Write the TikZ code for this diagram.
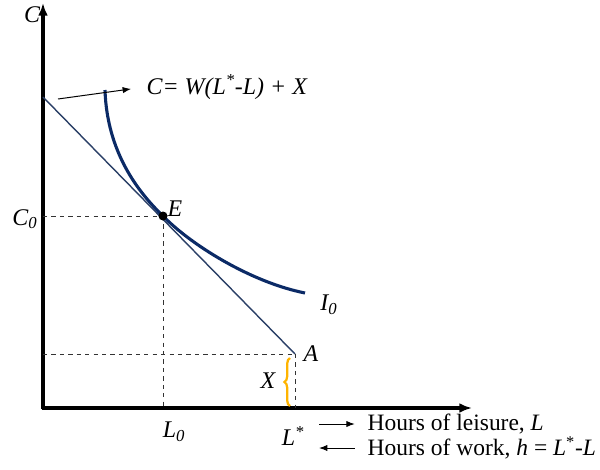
\documentclass[tikz,border=0pt]{standalone}
\usepackage{fontspec}
\setmainfont{Liberation Serif}
\usetikzlibrary{arrows.meta,decorations.pathreplacing}
\definecolor{navycurve}{HTML}{0B2A66}
\definecolor{navyline}{HTML}{2A3F66}
\definecolor{bracegold}{HTML}{FFB400}
\tikzset{
  axis/.style={line width=2.2pt, -{Latex[length=9pt,width=7pt]}},
  guide/.style={dashed, line width=0.6pt, black!80},
  lbl/.style={font=\fontsize{17}{20}\selectfont\itshape, inner sep=1pt},
  txt/.style={font=\fontsize{16.7}{20}\selectfont, inner sep=1pt, anchor=west},
  pointer/.style={line width=0.7pt, -{Latex[length=6pt,width=4.5pt]}}
}
\begin{document}
\begin{tikzpicture}[x=0.025cm, y=-0.025cm]
    \useasboundingbox (0,0) rectangle (600,469);
    % axes
    \coordinate (O) at (43,408);
    \coordinate (ytop) at (43,3);
    \coordinate (xend) at (472,408);
    \draw[axis] (43,409) -- (ytop);
    \draw[axis] (42,408) -- (xend);
    \node[lbl] (ylab) at (32,15) {C};

    % key points
    \coordinate (Cint) at (43,97);
    \coordinate (A) at (295,354);
    \coordinate (E) at (163,216);
    \coordinate (C0) at (43,216);
    \coordinate (L0) at (163,408);
    \coordinate (Lstar) at (295,408);
    \coordinate (Aleft) at (43,354);

    % guide lines
    \draw[guide] (C0) -- (E);
    \draw[guide] (E) -- (L0);
    \draw[guide] (Aleft) -- (A);
    \draw[guide] (A) -- (Lstar);

    % budget line
    \draw[navyline, line width=1pt] (Cint) -- (A);

    % indifference curve
    \draw[navycurve, line width=2.2pt] (105,90) .. controls (107,152) and (138,192) .. (E)
        .. controls (190,244) and (250,282) .. (305,293);
    \fill (E) circle (3.2pt);

    % labels
    \node[lbl, anchor=west] (Elab) at (166,209) {E};
    \node[lbl] (C0lab) at (25,219) {C\textsubscript{0}};
    \node[lbl] (L0lab) at (174,432) {L\textsubscript{0}};
    \node[lbl] (Lslab) at (293,436) {L\textsuperscript{*}};
    \node[lbl] (I0lab) at (329,305) {I\textsubscript{0}};
    \node[lbl, anchor=west] (Alab) at (302,354) {A};

    % income brace
    \draw[bracegold, line width=1.6pt, decorate, decoration={brace, amplitude=4pt}] (290,406) -- (290,358);
    \node[lbl] (Xlab) at (268,381) {X};

    % budget equation
    \coordinate (eqstart) at (58,99);
    \node[lbl, anchor=west] (eq) at (145,87) {C= W(L\textsuperscript{*}-L) + X};
    \draw[pointer, shorten >=10pt] (eqstart) -- (eq.west);

    % axis direction notes
    \node[txt] (leis) at (366,424) {Hours of leisure, \textit{L}};
    \node[txt] (work) at (366,448) {Hours of work, \textit{h} = \textit{L}\textsuperscript{*}-\textit{L}};
    \coordinate (lfrom) at (319,424);
    \coordinate (wto) at (319,448);
    \draw[pointer, shorten >=8pt] (lfrom) -- (leis.west);
    \draw[pointer, shorten <=8pt] (work.west) -- (wto);
\end{tikzpicture}
\end{document}
